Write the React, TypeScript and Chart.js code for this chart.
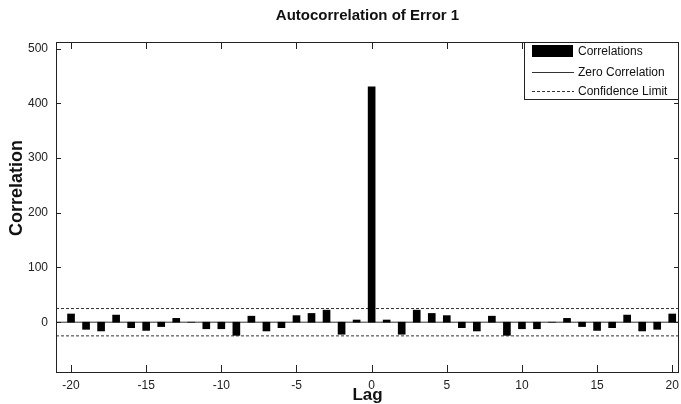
import React, { useEffect, useRef } from 'react';
import { Chart, registerables } from 'chart.js';

Chart.register(...registerables);

// ---- data ----
const lags = [
  -20, -19, -18, -17, -16, -15, -14, -13, -12, -11, -10, -9, -8, -7, -6, -5, -4, -3, -2, -1,
  0,
  1, 2, 3, 4, 5, 6, 7, 8, 9, 10, 11, 12, 13, 14, 15, 16, 17, 18, 19, 20,
];
const correlations = [
  15, -13, -16, 13, -10, -15, -8, 7, 0, -12, -12, -24, 11, -16, -10, 12, 16, 22, -22, 4,
  430,
  4, -22, 22, 16, 12, -10, -16, 11, -24, -12, -12, 0, 7, -8, -15, -10, 13, -16, -13, 15,
];
const confidenceLimit = 25;
const xTickValues = [-20, -15, -10, -5, 0, 5, 10, 15, 20];
const yTickValues = [0, 100, 200, 300, 400, 500];
const xRange = [-21, 20.45];
const yRange = [-91, 512];
const titleText = 'Autocorrelation of Error 1';
const xLabel = 'Lag';
const yLabel = 'Correlation';
const legendLabels = ['Correlations', 'Zero Correlation', 'Confidence Limit'];

const FONT = '"Liberation Sans", Arial, Helvetica, sans-serif';

const framePlugin = {
  id: 'matlabFrame',
  afterDraw(chart: any) {
    const { ctx, chartArea } = chart;
    const { left, right, top, bottom } = chartArea;
    const xs = chart.scales.x;
    const ys = chart.scales.y;
    ctx.save();
    // box
    ctx.strokeStyle = '#222';
    ctx.lineWidth = 1;
    ctx.setLineDash([]);
    ctx.strokeRect(Math.round(left) + 0.5, Math.round(top) + 0.5, Math.round(right - left) - 1, Math.round(bottom - top));
    // inward ticks
    ctx.beginPath();
    xTickValues.forEach((v) => {
      const px = Math.round(xs.getPixelForValue(v)) + 0.5;
      ctx.moveTo(px, bottom);
      ctx.lineTo(px, bottom - 7);
      ctx.moveTo(px, top);
      ctx.lineTo(px, top + 7);
    });
    yTickValues.forEach((v) => {
      const py = Math.round(ys.getPixelForValue(v)) + 0.5;
      ctx.moveTo(left, py);
      ctx.lineTo(left + 5, py);
      ctx.moveTo(right, py);
      ctx.lineTo(right - 5, py);
    });
    ctx.stroke();

    // title
    ctx.fillStyle = '#111';
    ctx.font = `bold 15px ${FONT}`;
    ctx.textAlign = 'center';
    ctx.textBaseline = 'middle';
    ctx.fillText(titleText, (left + right) / 2, 16);

    // y label
    ctx.save();
    ctx.translate(17, 188);
    ctx.rotate(-Math.PI / 2);
    ctx.font = `bold 18px ${FONT}`;
    ctx.fillText(yLabel, 0, 0);
    ctx.restore();

    // legend
    const lw = 155;
    const lh = 57;
    const lx = right - lw;
    const ly = top;
    ctx.fillStyle = '#fff';
    ctx.fillRect(lx, ly, lw, lh);
    ctx.strokeStyle = '#222';
    ctx.strokeRect(Math.round(lx) + 0.5, Math.round(ly) + 0.5, lw - 1, lh);
    const ds = chart.data.datasets;
    const rows = [9, 30, 49];
    ctx.font = `12px ${FONT}`;
    ctx.textAlign = 'left';
    ctx.textBaseline = 'middle';
    legendLabels.forEach((label, i) => {
      const cy = ly + rows[i];
      if (i === 0) {
        ctx.fillStyle = ds[0].backgroundColor;
        ctx.fillRect(lx + 8, cy - 6, 41, 12);
      } else {
        const d = ds[i];
        ctx.strokeStyle = d.borderColor;
        ctx.lineWidth = 1;
        ctx.setLineDash(d.borderDash || []);
        ctx.beginPath();
        ctx.moveTo(lx + 8, Math.round(cy) + 0.5);
        ctx.lineTo(lx + 50, Math.round(cy) + 0.5);
        ctx.stroke();
        ctx.setLineDash([]);
      }
      ctx.fillStyle = '#111';
      ctx.fillText(label, lx + 54, cy + 1);
    });
    ctx.restore();
  },
};

export default function App() {
  const canvasRef = useRef<HTMLCanvasElement | null>(null);

  useEffect(() => {
    if (!canvasRef.current) return;
    const chart = new Chart(canvasRef.current, {
      type: 'bar',
      data: {
        datasets: [
          {
            type: 'bar',
            label: legendLabels[0],
            data: lags.map((l, i) => ({ x: l, y: correlations[i] })),
            backgroundColor: '#000',
            borderWidth: 0,
            barThickness: 7,
          } as any,
          {
            type: 'line',
            label: legendLabels[1],
            data: [{ x: xRange[0], y: 0 }, { x: xRange[1], y: 0 }],
            borderColor: '#333',
            borderWidth: 1,
            pointRadius: 0,
            fill: false,
          } as any,
          {
            type: 'line',
            label: legendLabels[2],
            data: [{ x: xRange[0], y: confidenceLimit }, { x: xRange[1], y: confidenceLimit }],
            borderColor: '#333',
            borderWidth: 1,
            borderDash: [3, 2],
            pointRadius: 0,
            fill: false,
          } as any,
          {
            type: 'line',
            label: legendLabels[2] + ' (lower)',
            data: [{ x: xRange[0], y: -confidenceLimit }, { x: xRange[1], y: -confidenceLimit }],
            borderColor: '#333',
            borderWidth: 1,
            borderDash: [3, 2],
            pointRadius: 0,
            fill: false,
          } as any,
        ],
      },
      options: {
        animation: false,
        responsive: false,
        devicePixelRatio: 1,
        layout: { padding: { top: 42, left: 0, right: 2, bottom: 0 } },
        plugins: {
          legend: { display: false },
          title: { display: false },
          tooltip: { enabled: false },
        },
        scales: {
          x: {
            type: 'linear',
            min: xRange[0],
            max: xRange[1],
            offset: false,
            grid: { display: false, drawTicks: false },
            border: { display: false },
            afterBuildTicks: (s: any) => {
              s.ticks = xTickValues.map((v) => ({ value: v }));
            },
            afterFit: (s: any) => {
              s.height = 32;
              s.paddingLeft = 0;
              s.paddingRight = 0;
            },
            ticks: {
              autoSkip: false,
              maxRotation: 0,
              padding: 6,
              color: '#222',
              font: { family: FONT, size: 12 },
              callback: (v: any) => String(v),
            },
            title: {
              display: true,
              text: xLabel,
              color: '#111',
              font: { family: FONT, size: 17, weight: 'bold', lineHeight: 1 },
              padding: { top: 0, bottom: 0 },
            },
          },
          y: {
            type: 'linear',
            min: yRange[0],
            max: yRange[1],
            grid: { display: false, drawTicks: false },
            border: { display: false },
            afterBuildTicks: (s: any) => {
              s.ticks = yTickValues.map((v) => ({ value: v }));
            },
            afterFit: (s: any) => {
              s.width = 56;
              s.paddingTop = 0;
              s.paddingBottom = 0;
            },
            ticks: {
              padding: 8,
              color: '#222',
              font: { family: FONT, size: 12 },
              callback: (v: any) => String(v),
            },
          },
        },
      } as any,
      plugins: [framePlugin],
    });
    return () => chart.destroy();
  }, []);

  return (
    <div style={{ position: 'absolute', left: 0, top: 0, width: 681, height: 404, background: '#fff' }}>
      <canvas ref={canvasRef} width={681} height={404} style={{ display: 'block' }} />
    </div>
  );
}
